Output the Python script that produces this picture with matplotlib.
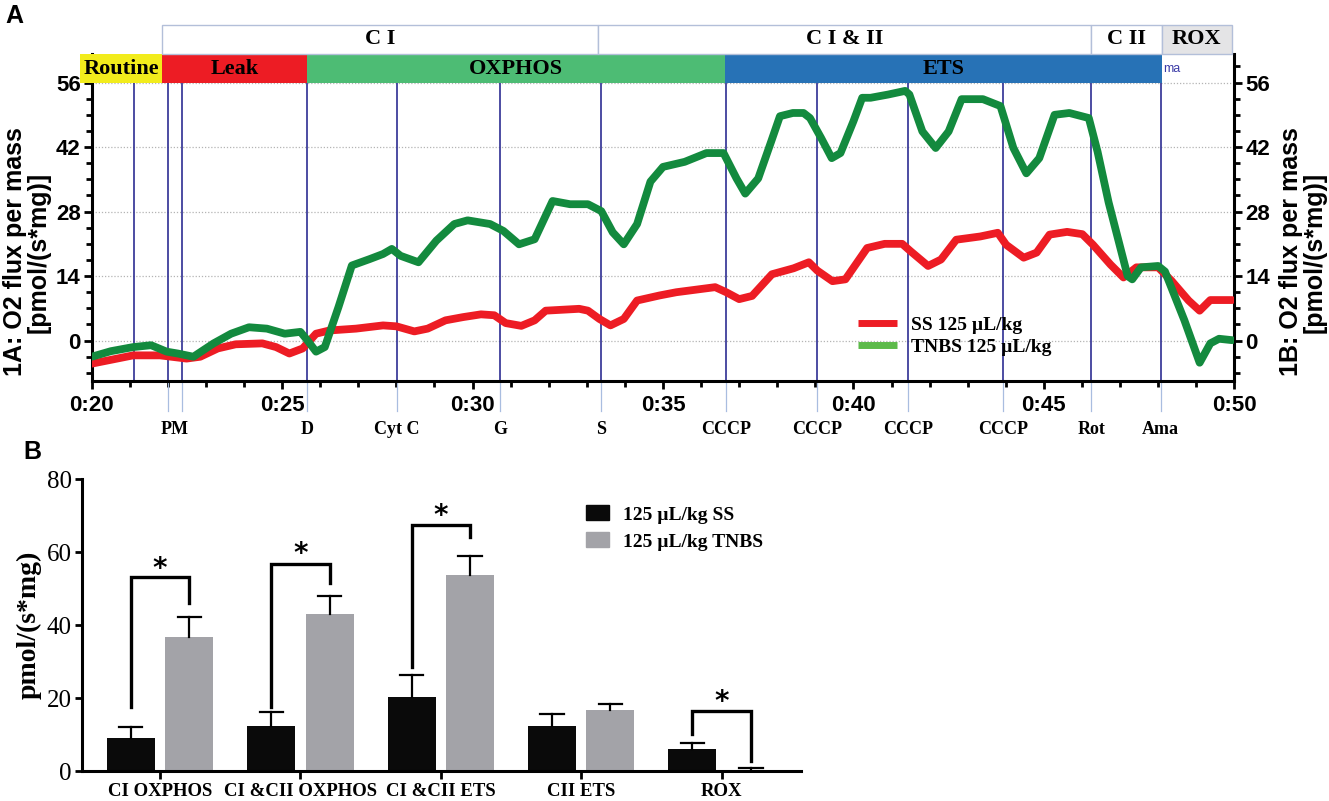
import matplotlib
matplotlib.use("Agg")
import matplotlib.pyplot as plt
from matplotlib.lines import Line2D
from matplotlib.patches import Patch, Rectangle
from matplotlib.ticker import FixedLocator, MultipleLocator

SANS = "Liberation Sans"
SERIF = "Liberation Serif"

# ---------------- panel A : O2 flux traces (time in minutes) ----------------
ss_time = [20.0, 21.09, 21.79, 22.49, 22.85, 23.31, 23.78, 24.48, 24.84, 25.19,
           25.54, 25.89, 26.24, 26.94, 27.65, 28.0, 28.47, 28.82, 29.29, 29.75,
           30.22, 30.57, 30.87, 31.28, 31.63, 31.92, 32.8, 33.03, 33.33, 33.62,
           33.97, 34.32, 34.91, 35.35, 36.37, 36.66, 37.0, 37.34, 37.86, 38.43,
           38.83, 39.05, 39.45, 39.79, 40.36, 40.82, 41.28, 41.5, 41.96, 42.3,
           42.7, 43.33, 43.79, 44.01, 44.47, 44.81, 45.15, 45.61, 46.01, 46.29,
           46.75, 47.09, 47.43, 48.0, 48.35, 48.8, 49.09, 49.37, 49.94]
ss_flux = [-5.0, -3.2, -3.2, -3.9, -3.5, -1.7, -0.8, -0.6, -1.4, -2.8,
           -1.7, 1.5, 2.2, 2.6, 3.3, 3.1, 2.0, 2.6, 4.4, 5.1,
           5.7, 5.5, 3.8, 3.2, 4.4, 6.5, 6.9, 6.5, 4.7, 3.3,
           4.7, 8.7, 9.8, 10.5, 11.6, 10.5, 9.0, 9.7, 14.4, 15.7,
           17.0, 15.2, 12.9, 13.3, 20.1, 21.0, 21.0, 19.4, 16.2, 17.6,
           21.9, 22.6, 23.4, 20.8, 18.0, 19.1, 23.0, 23.6, 23.1, 20.8,
           16.5, 13.7, 15.9, 15.9, 13.0, 8.7, 6.5, 8.8, 8.8]

tnbs_time = [20.0, 20.5, 21.09, 21.56, 21.97, 22.26, 22.67, 23.2, 23.66, 24.13,
             24.6, 25.07, 25.48, 25.66, 25.89, 26.12, 26.48, 26.83, 27.3, 27.65,
             27.88, 28.11, 28.58, 29.05, 29.52, 29.87, 30.46, 30.81, 31.22, 31.63,
             32.1, 32.56, 33.03, 33.38, 33.68, 33.97, 34.32, 34.67, 35.0, 35.57,
             36.14, 36.59, 36.93, 37.16, 37.5, 37.84, 38.07, 38.41, 38.69, 38.86,
             39.15, 39.43, 39.66, 40.0, 40.23, 40.45, 40.91, 41.36, 41.47, 41.81,
             42.16, 42.5, 42.84, 43.4, 43.86, 44.2, 44.54, 44.88, 45.28, 45.67,
             46.18, 46.41, 46.7, 46.95, 47.2, 47.32, 47.55, 48.0, 48.18, 48.69,
             49.09, 49.37, 49.6, 49.94]
tnbs_flux = [-3.5, -2.3, -1.4, -1.0, -2.4, -2.8, -3.5, -0.6, 1.5, 2.9,
             2.6, 1.5, 1.9, 0.1, -2.4, -1.4, 7.3, 16.3, 17.7, 18.8,
             19.9, 18.4, 17.0, 21.7, 25.3, 26.1, 25.3, 23.8, 20.9, 22.0,
             30.3, 29.6, 29.6, 28.1, 23.5, 20.9, 25.3, 34.5, 37.7, 38.8,
             40.7, 40.7, 35.2, 31.9, 35.2, 43.2, 48.7, 49.4, 49.4, 48.3,
             44.0, 39.6, 40.7, 47.6, 52.7, 52.7, 53.4, 54.2, 53.4, 45.4,
             41.8, 45.4, 52.4, 52.4, 50.9, 41.8, 36.3, 39.6, 49.0, 49.4,
             48.3, 41.0, 30.0, 22.0, 14.0, 13.3, 15.9, 16.2, 15.0, 4.4,
             -4.8, -0.6, 0.4, 0.1]

event_times = [21.12, 22.01, 22.38, 25.65, 28.02, 30.72, 33.37, 36.65,
               39.04, 41.43, 43.93, 46.24, 48.07]
event_label_times = [22.19, 25.65, 28.02, 30.72, 33.37, 36.65, 39.04, 41.43,
                     43.93, 46.24, 48.07]
event_labels = ["PM", "D", "Cyt C", "G", "S", "CCCP", "CCCP", "CCCP", "CCCP",
                "Rot", "Ama"]

state_names = ["Routine", "Leak", "OXPHOS", "ETS"]
state_edges = [19.69, 21.85, 25.66, 36.64, 48.09]
state_colors = ["#f2ec1c", "#ed1c24", "#4dbc74", "#2772b6"]

complex_names = ["C I", "C I & II", "C II", "ROX"]
complex_edges = [21.85, 33.29, 46.25, 48.09, 49.94]
complex_fills = ["white", "white", "white", "#e4e4e6"]

# ---------------- panel B : bar summary ----------------
groups = ["CI OXPHOS", "CI &CII OXPHOS", "CI &CII ETS", "CII ETS", "ROX"]
ss_mean = [9.0, 12.3, 20.4, 12.3, 5.9]
ss_err = [3.2, 3.8, 6.0, 3.2, 1.9]
tnbs_mean = [36.7, 43.1, 53.8, 16.6, 0.3]
tnbs_err = [5.5, 4.9, 5.1, 1.7, 0.4]

sig_groups = [0, 1, 2, 4]
sig_top = [53.1, 56.9, 67.5, 16.5]
sig_left = [17.6, 17.6, 28.6, 10.1]
sig_right = [46.0, 51.5, 64.3, 2.7]
sig_star = [57.4, 61.5, 72.0, 21.0]

RED = "#ed1c24"
GREEN = "#138a3e"
NAVY = "#2e2e92"
W, H = 1329, 801

fig = plt.figure(figsize=(W / 100, H / 100), dpi=100)


def box(x0, y0, x1, y1):
    return [x0 / W, 1 - y1 / H, (x1 - x0) / W, (y1 - y0) / H]


# ===================== panel A =====================
ax = fig.add_axes(box(91.7, 54, 1234.3, 380.7))
YMIN, YMAX = -8.7, 62.2
ax.set_xlim(20, 50)
ax.set_ylim(YMIN, YMAX)

for v in [0, 14, 28, 42, 56]:
    ax.axhline(v, color="#b4b4b4", lw=0.9, ls=(0, (1, 1.5)), zorder=0)

ax.vlines(event_times, YMIN, 55.9, color=NAVY, lw=1.2, zorder=1)
for t in event_times[1:]:
    ax.plot([t, t], [YMIN, -15.2], color="#a9bde0", lw=0.9, clip_on=False)

ax.plot(ss_time, ss_flux, color=RED, lw=5.6, solid_capstyle="round",
        solid_joinstyle="round", zorder=3)
ax.plot(tnbs_time, tnbs_flux, color=GREEN, lw=5.6, solid_capstyle="round",
        solid_joinstyle="round", zorder=4)

# state bands on top of the trace area
for name, x0, x1, c in zip(state_names, state_edges[:-1], state_edges[1:], state_colors):
    ax.add_patch(Rectangle((x0, 55.9), x1 - x0, YMAX - 55.9, facecolor=c,
                           edgecolor="none", clip_on=False, zorder=5))
    ax.text((x0 + x1) / 2, 59.0, name, ha="center", va="center", fontsize=16,
            fontweight="bold", family=SERIF, zorder=6)
ax.text(48.12, 58.9, "ma", color="#3a3aa6", fontsize=9, family=SANS,
        va="center", ha="left", zorder=6)

# complex header boxes above the axes
for name, x0, x1, c in zip(complex_names, complex_edges[:-1], complex_edges[1:], complex_fills):
    ax.add_patch(Rectangle((x0, YMAX), x1 - x0, 6.3, facecolor=c,
                           edgecolor="#b3bfd9", lw=1.0, clip_on=False, zorder=5))
    ax.text((x0 + x1) / 2, YMAX + 3.3, name, ha="center", va="center",
            fontsize=16, fontweight="bold", family=SERIF, zorder=6)

for lt, lab in zip(event_label_times, event_labels):
    ax.text(lt, -19.3, lab, ha="center", va="center", fontsize=13,
            fontweight="bold", family=SERIF)

ax.spines["top"].set_visible(False)
for s in ["left", "right", "bottom"]:
    ax.spines[s].set_linewidth(2.2)

ax.xaxis.set_major_locator(FixedLocator([20, 25, 30, 35, 40, 45, 50]))
ax.set_xticklabels(["0:20", "0:25", "0:30", "0:35", "0:40", "0:45", "0:50"])
ax.xaxis.set_minor_locator(MultipleLocator(1))
ax.yaxis.set_major_locator(FixedLocator([0, 14, 28, 42, 56]))
ax.yaxis.set_minor_locator(MultipleLocator(3.5))
ax.tick_params(which="major", direction="out", length=6, width=2, pad=4,
               right=True, labelright=True, labelsize=16)
ax.tick_params(which="minor", direction="out", length=4, width=2, right=True)
ax.tick_params(axis="y", pad=2)
for lab in ax.get_xticklabels() + ax.get_yticklabels():
    lab.set_fontfamily(SANS)
    lab.set_fontweight("bold")

fig.text(27 / W, 1 - 252 / H, "1A: O2 flux per mass\n[pmol/(s*mg)]", rotation=90,
         ha="center", va="center", fontsize=18, fontweight="bold", family=SANS,
         linespacing=0.95)
fig.text(1303 / W, 1 - 252 / H, "1B: O2 flux per mass\n[pmol/(s*mg)]", rotation=90,
         ha="center", va="center", fontsize=18, fontweight="bold", family=SANS,
         linespacing=0.95)

fig.legend(handles=[Line2D([], [], color=RED, lw=5, solid_capstyle="butt"),
                    Line2D([], [], color="#5cba4a", lw=5, solid_capstyle="butt")],
           labels=["SS 125 \u00b5L/kg", "TNBS 125 \u00b5L/kg"],
           loc="center left", bbox_to_anchor=(858 / W, 1 - 336 / H),
           frameon=False, handlelength=2.0, handletextpad=0.7,
           labelspacing=0.2, borderpad=0, borderaxespad=0,
           prop={"family": SERIF, "weight": "bold", "size": 14})

fig.text(14 / W, 1 - 16 / H, "A", fontsize=18, fontweight="bold", family=SANS,
         ha="center", va="center")
fig.text(32 / W, 1 - 452 / H, "B", fontsize=18, fontweight="bold", family=SANS,
         ha="center", va="center")

# ===================== panel B =====================
bx = fig.add_axes(box(81.7, 479.3, 801, 771))
xs = list(range(len(groups)))
off, bw, cap = 0.208, 0.342, 0.083
bx.bar([x - off for x in xs], ss_mean, bw, color="#0a0a0a", zorder=2)
bx.bar([x + off for x in xs], tnbs_mean, bw, color="#a3a3a8", zorder=2)

# one-sided (upper) error bars
for sgn, means, errs in [(-1, ss_mean, ss_err), (1, tnbs_mean, tnbs_err)]:
    for x, m, e in zip(xs, means, errs):
        cx = x + sgn * off
        bx.plot([cx, cx], [m, m + e], color="black", lw=1.6, zorder=3)
        bx.plot([cx - cap, cx + cap], [m + e, m + e], color="black", lw=1.6,
                zorder=3)

for g, top, lb, rb, st in zip(sig_groups, sig_top, sig_left, sig_right, sig_star):
    bx.plot([g - off, g - off, g + off, g + off], [lb, top, top, rb], color="black",
            lw=2.4, solid_joinstyle="miter", clip_on=False, zorder=3)
    bx.text(g, st - 4.3, "*", ha="center", va="baseline", fontsize=20,
            fontweight="bold", family="DejaVu Sans")

bx.set_xlim(-0.558, 4.565)
bx.set_ylim(0, 80)
bx.set_yticks([0, 20, 40, 60, 80])
bx.set_xticks(xs)
bx.set_xticklabels(groups)
bx.set_ylabel("pmol/(s*mg)", fontsize=20, fontweight="bold", family=SERIF,
              labelpad=4)
bx.spines["top"].set_visible(False)
bx.spines["right"].set_visible(False)
bx.spines["left"].set_linewidth(2.2)
bx.spines["bottom"].set_linewidth(2.2)
bx.tick_params(axis="y", direction="out", length=5, width=2, pad=2, labelsize=18)
bx.tick_params(axis="x", direction="out", length=6, width=2, pad=3, labelsize=13.5)
for lab in bx.get_yticklabels():
    lab.set_fontfamily(SERIF)
for lab in bx.get_xticklabels():
    lab.set_fontfamily(SERIF)
    lab.set_fontweight("bold")

fig.legend(handles=[Patch(color="#0a0a0a"), Patch(color="#a3a3a8")],
           labels=["125 \u00b5L/kg SS", "125 \u00b5L/kg TNBS"],
           loc="center left", bbox_to_anchor=(586 / W, 1 - 528 / H),
           frameon=False, handlelength=1.2, handleheight=0.8, handletextpad=0.7,
           labelspacing=0.45, borderpad=0, borderaxespad=0,
           prop={"family": SERIF, "weight": "bold", "size": 14})

fig.savefig("out.png", dpi=100)
